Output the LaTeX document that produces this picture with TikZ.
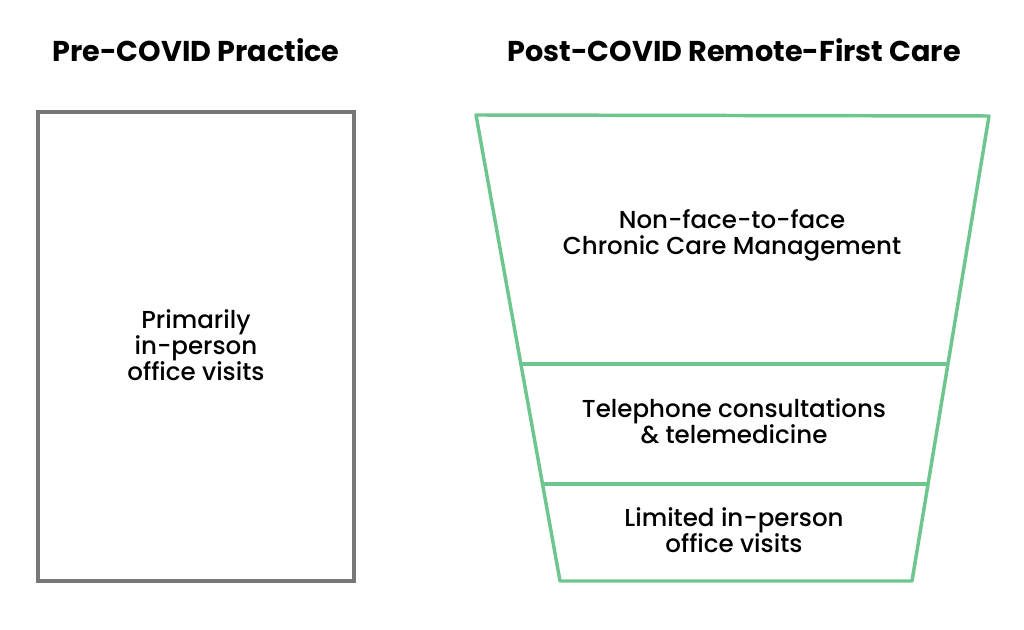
\documentclass[tikz,border=0pt]{standalone}
\usepackage{fontspec}
\setmainfont{Poppins}
\newfontfamily\medfont{Poppins}[UprightFont=* Medium]
\definecolor{fgreen}{HTML}{6EC68F}
\definecolor{fgray}{HTML}{777777}
\begin{document}
\begin{tikzpicture}[x=0.75pt,y=-0.75pt,
  title/.style={font=\bfseries\fontsize{21.5}{25}\selectfont, text=black},
  body/.style={font=\medfont\fontsize{18.4}{19.6}\selectfont, align=center, text=black},
  grn/.style={draw=fgreen, line width=2.6pt, line join=round},
  gry/.style={draw=fgray, line width=2.6pt}]
\useasboundingbox (0,0) rectangle (1024,630);
\node[title] (t1) at (196,50) {Pre-COVID Practice};
\node[title] (t2) at (734,50) {Post-COVID Remote-First Care};
\draw[gry] (38,112) rectangle (354,581);
\node[body] (b0) at (196,345) {Primarily\\in-person\\office visits};
\coordinate (tl) at (476,115);
\coordinate (tr) at (989,116);
\coordinate (bl) at (560,581);
\coordinate (br) at (912,581);
\coordinate (m1l) at (521,364);
\coordinate (m1r) at (948,364);
\coordinate (m2l) at (542.5,484);
\coordinate (m2r) at (927.5,484);
\draw[grn] (tl) -- (tr) -- (br) -- (bl) -- cycle;
\draw[grn] (m1l) -- (m1r);
\draw[grn] (m2l) -- (m2r);
\node[body] (b1) at (732,235) {Non-face-to-face\\Chronic Care Management};
\node[body] (b2) at (734,421) {Telephone consultations\\\& telemedicine};
\node[body] (b3) at (734,530) {Limited in-person\\office visits};
\end{tikzpicture}
\end{document}
